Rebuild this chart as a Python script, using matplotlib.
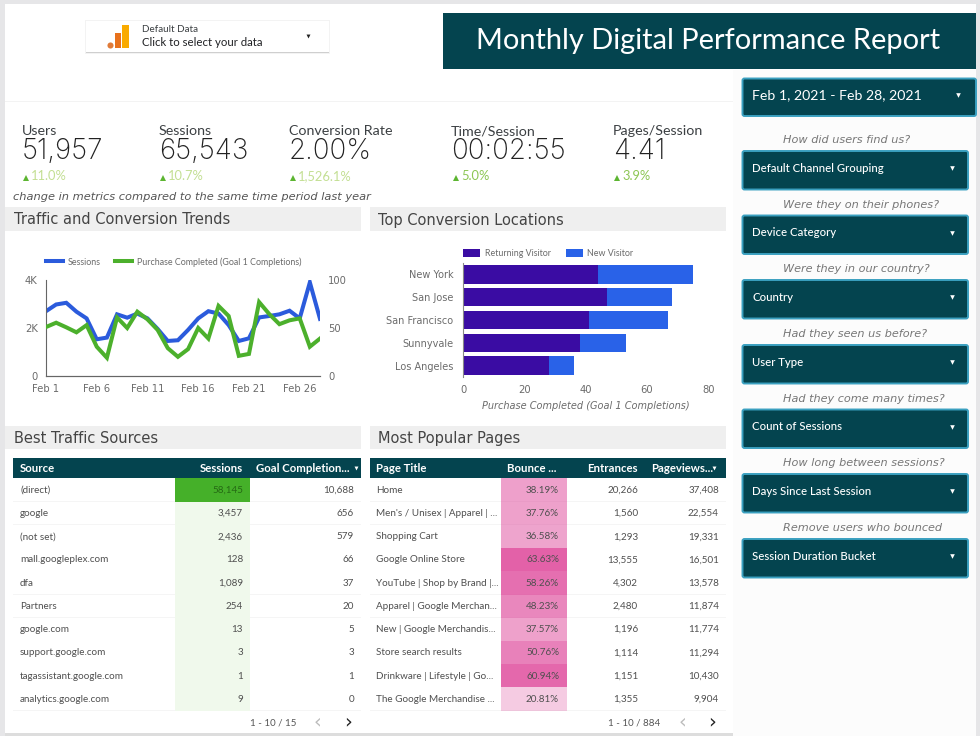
"""Monthly digital performance dashboard, drawn on a pixel grid."""

import matplotlib
matplotlib.use("Agg")
import matplotlib.pyplot as plt
from matplotlib.patches import FancyBboxPatch, Rectangle

W, H = 980, 736
TEAL = "#04444f"
TEXT = "#3c4043"
GRAY = "#6b6b6b"

# KPI row
kpi_names = ["Users", "Sessions", "Conversion Rate", "Time/Session", "Pages/Session"]
kpi_values = ["51,957", "65,543", "2.00%", "00:02:55", "4.41"]
kpi_deltas = ["11.0%", "10.7%", "1,526.1%", "5.0%", "3.9%"]

# Traffic trend
days = list(range(1, 29))
sessions = [2700, 2980, 3050, 2680, 2400, 1530, 1600, 2570, 2430, 2600, 2400, 1960, 1460, 1490,
            1920, 2400, 2700, 2600, 2120, 1460, 1570, 2440, 2500, 2570, 2720, 2400, 3900, 2380]
purchases = [51, 55.5, 50.7, 45.5, 53, 30.5, 19, 61, 50, 67, 59, 48, 29, 20,
             28, 50, 39, 73, 62.5, 21, 23, 77, 64.5, 54, 58, 60, 30.5, 39]
day_ticks = [1, 6, 11, 16, 21, 26]
day_labels = ["Feb 1", "Feb 6", "Feb 11", "Feb 16", "Feb 21", "Feb 26"]

# Locations
cities = ["New York", "San Jose", "San Francisco", "Sunnyvale", "Los Angeles"]
returning = [44, 47, 41, 38, 28]
new_visitor = [31, 21, 26, 15, 8]

# Tables
sources = ["(direct)", "google", "(not set)", "mall.googleplex.com", "dfa", "Partners",
           "google.com", "support.google.com", "tagassistant.google.com", "analytics.google.com"]
source_sessions = [58145, 3457, 2436, 128, 1089, 254, 13, 3, 1, 9]
source_goals = [10688, 656, 579, 66, 37, 20, 5, 3, 1, 0]

pages = ["Home", "Men's / Unisex | Apparel | ...", "Shopping Cart", "Google Online Store",
         "YouTube | Shop by Brand |...", "Apparel | Google Merchan...", "New | Google Merchandis...",
         "Store search results", "Drinkware | Lifestyle | Go...", "The Google Merchandise ..."]
bounce = [38.19, 37.76, 36.58, 63.63, 58.26, 48.23, 37.57, 50.76, 60.94, 20.81]
entrances = [20266, 1560, 1293, 13555, 4302, 2480, 1196, 1114, 1151, 1355]
pageviews = [37408, 22554, 19331, 16501, 13578, 11874, 11774, 11294, 10430, 9904]

# Sidebar
filter_captions = ["How did users find us?", "Were they on their phones?", "Were they in our country?",
                   "Had they seen us before?", "Had they come many times?", "How long between sessions?",
                   "Remove users who bounced"]
filter_names = ["Default Channel Grouping", "Device Category", "Country", "User Type",
                "Count of Sessions", "Days Since Last Session", "Session Duration Bucket"]

fig = plt.figure(figsize=(W / 100, H / 100), dpi=100, facecolor="#e6e6e8")
bg = fig.add_axes([0, 0, 1, 1])
bg.set_xlim(0, W)
bg.set_ylim(H, 0)
bg.axis("off")


def rect(x0, y0, x1, y1, color, **kw):
    bg.add_patch(Rectangle((x0, y0), x1 - x0, y1 - y0, facecolor=color, edgecolor="none", **kw))


def px_axes(x0, y0, x1, y1):
    ax = fig.add_axes([x0 / W, 1 - y1 / H, (x1 - x0) / W, (y1 - y0) / H])
    ax.patch.set_alpha(0)
    return ax


def caret(x, y, color="white", size=11):
    bg.plot([x], [y], marker="v", color=color, markersize=size ** 0.5, markeredgewidth=0)


# Canvas
rect(5, 4, 976, 736, "white")
rect(5, 101, 733, 102, "#f3f3f3")
rect(733, 70, 976, 736, "#fcfcfc")

# Data selector
rect(85, 20, 330, 54, "#f3f3f3")
rect(86, 51, 329, 53, "#cfcfcf")
rect(86, 21, 329, 51.5, "white")
bg.plot([110], [44.5], marker="o", color="#e07b39", markersize=4.4, markeredgewidth=0)
rect(115, 33, 120.5, 48, "#e8711c")
rect(122, 25, 128.5, 48, "#f9ab00")
bg.text(142, 30, "Default Data", fontsize=7.1, family="Lato", color=TEXT, va="center")
bg.text(142, 43, "Click to select your data", fontsize=8.2, family="Lato", color="#202124", va="center")
caret(308, 35.5, "#222222", 8)

# Title
rect(443, 13, 976, 69, TEAL)
bg.text(708, 41, "Monthly Digital Performance Report", fontsize=20.9, family="Lato", color="white",
        ha="center", va="center")

# KPIs
kpi_x = [22, 159, 289, 451, 613]
kpi_delta_x = [31, 168, 298, 461, 622]
for i in range(5):
    bg.text(kpi_x[i], 131, kpi_names[i], fontsize=10.3, family="Lato", color=TEXT, va="center")
    bg.text(kpi_x[i], 151.5, kpi_values[i], fontsize=20, family="Inter", weight="light", color="#222222", va="center")
    bg.text(kpi_delta_x[i], 176.5, kpi_deltas[i], fontsize=9.3, family="Lato",
            color="#c3df93" if i < 3 else "#8cc653", va="center")
    bg.plot([kpi_delta_x[i] - 5], [178], marker="^", color="#5cb531", markersize=3.8, markeredgewidth=0)
bg.text(13, 197, "change in metrics compared to the same time period last year", fontsize=8.2,
        family="DejaVu Sans", style="italic", color="#555555", va="center")

# Section headers
headers = [(5, 207, 361, 231, "Traffic and Conversion Trends", 14),
           (370, 207, 726, 231, "Top Conversion Locations", 378),
           (5, 426, 361, 449, "Best Traffic Sources", 14),
           (370, 426, 726, 449, "Most Popular Pages", 378)]
for x0, y0, x1, y1, label, tx in headers:
    rect(x0, y0, x1, y1, "#efefef")
    bg.text(tx, (y0 + y1) / 2 + 1, label, fontsize=10.5, family="DejaVu Sans", color="#444444", va="center")

# Trend chart
ax = px_axes(46, 280, 320, 376)
ax.plot(days, sessions, color="#2b5bdc", linewidth=2.9, label="Sessions", solid_joinstyle="miter")
ax.set_xlim(1, 28)
ax.set_ylim(0, 4000)
ax.set_xticks(day_ticks)
ax.set_xticklabels(day_labels)
ax.set_yticks([0, 2000, 4000])
ax.set_yticklabels(["0", "2K", "4K"])
ax2 = ax.twinx()
ax2.patch.set_alpha(0)
ax2.plot(days, purchases, color="#4cb02c", linewidth=2.9, label="Purchase Completed (Goal 1 Completions)",
         solid_joinstyle="miter")
ax2.set_ylim(0, 100)
ax2.set_yticks([0, 50, 100])
for a in (ax, ax2):
    a.tick_params(length=0, labelsize=7.2, labelcolor=GRAY, pad=6)
    for lab in a.get_xticklabels() + a.get_yticklabels():
        lab.set_family("DejaVu Sans")
    a.spines["top"].set_visible(False)
    a.spines["right"].set_visible(False)
    a.spines["left"].set_color("#666666")
    a.spines["bottom"].set_color("#666666")
ax2.spines["left"].set_visible(False)
handles = ax.get_lines() + ax2.get_lines()
leg = ax.legend(handles, [h.get_label() for h in handles], ncol=2, frameon=False, loc="lower left",
                bbox_to_anchor=(0, 1.14), borderaxespad=0, borderpad=0, handlelength=1.95, handletextpad=0.5,
                columnspacing=1.6, prop={"family": "Lato", "size": 6.4})
for t in leg.get_texts():
    t.set_color(GRAY)

# Location bars
ax = px_axes(463.3, 263, 708.3, 377)
ax.barh(cities, returning, height=0.81, color="#3a0ca3", edgecolor="none", label="Returning Visitor")
ax.barh(cities, new_visitor, left=returning, height=0.81, color="#2962e8", edgecolor="none", label="New Visitor")
ax.set_xlim(0, 80)
ax.set_ylim(4.5, -0.5)
ax.set_xticks([0, 20, 40, 60, 80])
ax.tick_params(axis="x", length=0, labelsize=7.2, labelcolor=GRAY, pad=6)
ax.tick_params(axis="y", length=0, labelsize=7.0, labelcolor=GRAY, pad=7)
for lab in ax.get_xticklabels() + ax.get_yticklabels():
    lab.set_family("DejaVu Sans")
for s in ["top", "right", "bottom"]:
    ax.spines[s].set_visible(False)
ax.spines["left"].set_color("#888888")
ax.set_xlabel("Purchase Completed (Goal 1 Completions)", fontsize=7.0, family="DejaVu Sans", style="italic",
              color=GRAY, labelpad=4, x=0.5)
leg = ax.legend(ncol=2, frameon=False, loc="lower left", bbox_to_anchor=(0, 1.045), borderaxespad=0, borderpad=0,
                handlelength=1.9, handleheight=1.05, handletextpad=0.5, columnspacing=1.7,
                prop={"family": "Lato", "size": 6.4})
for t in leg.get_texts():
    t.set_color(GRAY)

# Tables
HEAD_TOP, HEAD_BOT = 458, 478.3
ROW_H = 23.24


def header_cells(x0, x1, items):
    rect(x0, HEAD_TOP, x1, HEAD_BOT, TEAL)
    for tx, ha, label in items:
        bg.text(tx, (HEAD_TOP + HEAD_BOT) / 2 + 0.5, label, fontsize=8.2, family="Lato", weight="bold",
                color="white", ha=ha, va="center")


def row_y(i):
    return HEAD_BOT + ROW_H * (i + 0.5)


def cell(x, i, label, ha="right", color="#4f4f4f"):
    bg.text(x, row_y(i) + 0.3, label, fontsize=7.1, family="Lato", color=color, ha=ha, va="center")


header_cells(13, 361, [(20, "left", "Source"), (243, "right", "Sessions"), (256, "left", "Goal Completion...")])
caret(356, 468, "white", 8)
header_cells(369.5, 726, [(376, "left", "Page Title"), (507, "left", "Bounce ..."), (638, "right", "Entrances"),
                          (651, "left", "Pageviews...")])
caret(714, 468, "white", 8)

for i in range(10):
    # row separators
    for x0, x1 in ((13, 361), (369.5, 726)):
        rect(x0, HEAD_BOT + ROW_H * (i + 1) - 0.4, x1, HEAD_BOT + ROW_H * (i + 1), "#f5f5f5")
    # sessions heat column
    if source_sessions[i] == max(source_sessions):
        rect(175, HEAD_BOT + ROW_H * i, 250, HEAD_BOT + ROW_H * (i + 1), "#45b029", zorder=2)
    else:
        rect(175, HEAD_BOT + ROW_H * i, 250, HEAD_BOT + ROW_H * (i + 1), "#f0f9ec", zorder=2)
    # bounce heat column
    shade = bounce[i] / max(bounce)
    rect(500.7, HEAD_BOT + ROW_H * i, 566.7, HEAD_BOT + ROW_H * (i + 1), "#e0509f", alpha=shade * 0.9, zorder=2)
    cell(20, i, sources[i], "left")
    cell(243, i, f"{source_sessions[i]:,}", color="#256a14" if i == 0 else "#4f4f4f")
    cell(354, i, f"{source_goals[i]:,}")
    cell(376, i, pages[i], "left")
    cell(559, i, f"{bounce[i]:.2f}%")
    cell(638, i, f"{entrances[i]:,}")
    cell(719, i, f"{pageviews[i]:,}")
for t in bg.texts:
    t.set_zorder(4)

# Pagination
for label, x, lx, rx in (("1 - 10 / 15", 273, 317, 348), ("1 - 10 / 884", 634.5, 682, 712)):
    bg.text(x, 723, label, ha="center", va="center", fontsize=7.0, family="Lato", color="#555555", zorder=4)
    bg.text(lx, 722, "‹", ha="center", va="center", fontsize=14, family="DejaVu Sans", color="#bbbbbb")
    bg.text(rx, 722, "›", ha="center", va="center", fontsize=14, family="DejaVu Sans", color="#222222")
rect(5, 733, 733, 736, "#dddddd")


# Sidebar
def dropdown(x0, y0, x1, y1, label, size, weight="normal"):
    bg.add_patch(FancyBboxPatch((x0, y0), x1 - x0, y1 - y0, boxstyle="round,pad=0,rounding_size=2",
                                facecolor=TEAL, edgecolor="#3aa0c0", linewidth=1.4))
    bg.text(x0 + 9.8, (y0 + y1) / 2 - 2, label, fontsize=size, family="Lato", weight=weight, color="white",
            va="center")
    caret(x1 - 18 if x1 > 970 else x1 - 16, (y0 + y1) / 2 - 2, "white", 11)


dropdown(742.5, 78.5, 976, 116, "Feb 1, 2021 - Feb 28, 2021", 10.2)
box_tops = [151, 215.5, 280, 345, 409.5, 474, 539]
for i in range(7):
    dropdown(742.5, box_tops[i], 968, box_tops[i] + 38.5, filter_names[i], 8.2, "medium")
    bg.text(783, box_tops[i] - 11, filter_captions[i], fontsize=8.1, family="DejaVu Sans", style="italic",
            color="#777777", ha="left", va="center")

fig.savefig("out.png", dpi=100)
